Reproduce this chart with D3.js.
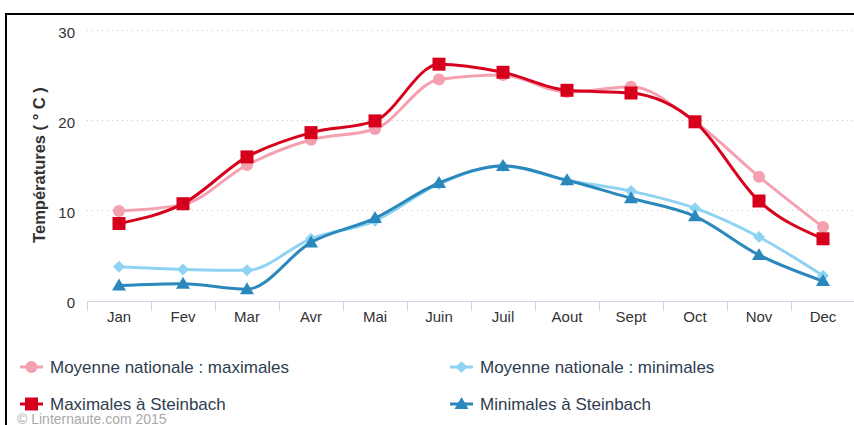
<!DOCTYPE html>
<html><head><meta charset="utf-8">
<script src="https://cdn.jsdelivr.net/npm/d3@7"></script>
<style>body{margin:0;background:#fff;}svg{display:block;font-family:"Liberation Sans",Arial,sans-serif;}</style>
</head><body><svg id="c" width="854" height="425"></svg>
<script>
const months = ["Jan","Fev","Mar","Avr","Mai","Juin","Juil","Aout","Sept","Oct","Nov","Dec"];
const natMax = [9.9,10.6,15.0,17.8,19.0,24.5,25.0,23.1,23.7,19.8,13.7,8.1];
const steinMax = [8.5,10.7,15.9,18.6,19.9,26.2,25.3,23.3,23.0,19.8,11.0,6.8];
const natMin = [3.7,3.4,3.3,6.8,8.8,12.9,14.9,13.3,12.1,10.2,7.0,2.7];
const steinMin = [1.6,1.8,1.2,6.4,9.1,13.0,14.9,13.3,11.3,9.3,5.0,2.1];
const yTicks = [0,10,20,30];
const seriesNames = ["Moyenne nationale : maximales","Maximales à Steinbach","Moyenne nationale : minimales","Minimales à Steinbach"];

const svg = d3.select("#c");
const x = d3.scaleBand().domain(months).range([87,855]);
const y = d3.scaleLinear().domain([0,30]).range([300,30]);

// border
svg.append("line").attr("x1",5).attr("x2",854).attr("y1",14).attr("y2",14).attr("stroke","#000").attr("stroke-width",2);
svg.append("line").attr("x1",6).attr("x2",6).attr("y1",13).attr("y2",425).attr("stroke","#000").attr("stroke-width",2);

// grid
svg.append("g").selectAll("line").data(yTicks.filter(d=>d>0)).join("line")
  .attr("x1",87).attr("x2",854).attr("y1",d=>y(d)+0.5).attr("y2",d=>y(d)+0.5)
  .attr("stroke","#c8c8c8").attr("stroke-dasharray","1,4").attr("stroke-width",1);

// y labels
svg.append("g").selectAll("text").data(yTicks).join("text")
  .attr("x",75).attr("y",d=>y(d)+7.5).attr("text-anchor","end")
  .attr("font-size",15).attr("fill","#333").text(d=>d);

// y title
svg.append("text").attr("transform","translate(45,165) rotate(-90)").attr("text-anchor","middle")
  .attr("font-size",16.5).attr("font-weight","bold").attr("fill","#333").text("Températures ( ° C )");

// x axis
const gx = svg.append("g").attr("transform","translate(0,301)");
gx.append("line").attr("x1",87).attr("x2",854).attr("y1",0.5).attr("y2",0.5).attr("stroke","#ccd6eb");
gx.selectAll("line.t").data(months).join("line").attr("class","t")
  .attr("x1",d=>x(d)+0.5).attr("x2",d=>x(d)+0.5).attr("y1",0).attr("y2",10).attr("stroke","#ccd6eb");
gx.selectAll("text").data(months).join("text")
  .attr("x",d=>x(d)+x.bandwidth()/2).attr("y",21).attr("text-anchor","middle")
  .attr("font-size",15).attr("fill","#333").text(d=>d);

const cx = (d,i)=>x(months[i])+x.bandwidth()/2;
const line = d3.line().x(cx).y(d=>y(d)).curve(d3.curveMonotoneX);

const cfg = [
  {data:natMax, color:"#f5a0b0", sym:"circle"},
  {data:steinMax, color:"#d6001c", sym:"square"},
  {data:natMin, color:"#8fd3f3", sym:"diamond"},
  {data:steinMin, color:"#2b88bd", sym:"triangle"}
];
function marker(g, sym, color, px, py){
  if(sym==="circle") g.append("circle").attr("cx",px).attr("cy",py).attr("r",6).attr("fill",color);
  else if(sym==="square") g.append("rect").attr("x",px-6.5).attr("y",py-6.5).attr("width",13).attr("height",13).attr("fill",color);
  else if(sym==="diamond") g.append("path").attr("d",`M${px},${py-6}L${px+6},${py}L${px},${py+6}L${px-6},${py}Z`).attr("fill",color);
  else g.append("path").attr("d",`M${px},${py-7}L${px+7},${py+5}L${px-7},${py+5}Z`).attr("fill",color);
}
cfg.forEach(s=>{
  const g = svg.append("g");
  g.append("path").attr("d",line(s.data)).attr("fill","none").attr("stroke",s.color).attr("stroke-width",3);
  s.data.forEach((v,i)=>marker(g,s.sym,s.color,cx(v,i),y(v)));
});

// legend
const legPos = [[20,367],[20,404],[450,367],[450,404]];
cfg.forEach((s,i)=>{
  const [lx,ly] = legPos[i];
  const g = svg.append("g");
  g.append("line").attr("x1",lx).attr("x2",lx+23).attr("y1",ly).attr("y2",ly).attr("stroke",s.color).attr("stroke-width",3);
  marker(g,s.sym,s.color,lx+11.5,ly);
  g.append("text").attr("x",lx+30).attr("y",ly+6).attr("font-size",17).attr("fill","#2e3d4f").text(seriesNames[i]);
});

svg.append("text").attr("x",17).attr("y",424).attr("font-size",14).attr("fill","#aaa").text("© Linternaute.com 2015");
</script></body></html>
